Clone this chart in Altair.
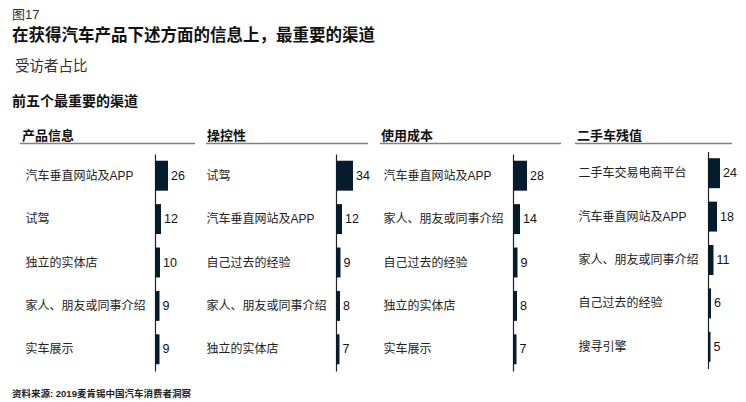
import altair as alt
import pandas as pd

fig_label = "图17"
main_title = "在获得汽车产品下述方面的信息上，最重要的渠道"
subtitle = "受访者占比"
section_title = "前五个最重要的渠道"
source_note = "资料来源: 2019麦肯锡中国汽车消费者洞察"

panel_titles = ["产品信息", "操控性", "使用成本", "二手车残值"]

cats1 = ["汽车垂直网站及APP", "试驾", "独立的实体店", "家人、朋友或同事介绍", "实车展示"]
vals1 = [26, 12, 10, 9, 9]
cats2 = ["试驾", "汽车垂直网站及APP", "自己过去的经验", "家人、朋友或同事介绍", "独立的实体店"]
vals2 = [34, 12, 9, 8, 7]
cats3 = ["汽车垂直网站及APP", "家人、朋友或同事介绍", "自己过去的经验", "独立的实体店", "实车展示"]
vals3 = [28, 14, 9, 8, 7]
cats4 = ["二手车交易电商平台", "汽车垂直网站及APP", "家人、朋友或同事介绍", "自己过去的经验", "搜寻引擎"]
vals4 = [24, 18, 11, 6, 5]

NAVY = "#051C2C"
FONT = "Liberation Sans, Noto Sans CJK SC"
CJK = "Noto Sans CJK SC"
H = 217


def panel(title, cats, vals, width, line_l, line_r, head_x, extra_layers=(), shift=0):
    df = pd.DataFrame({"channel": cats, "share": vals})
    if shift:
        yscale = alt.Scale(paddingInner=0.31, paddingOuter=0.155, range=[-shift, H - shift])
    else:
        yscale = alt.Scale(paddingInner=0.31, paddingOuter=0.155)
    base = alt.Chart(df).encode(
        y=alt.Y(
            "channel:N",
            sort=cats,
            scale=yscale,
            axis=alt.Axis(
                title=None, ticks=False, tickSize=0, labelAlign="left",
                labelPadding=130, labelFont=FONT, labelFontSize=12,
                labelColor="#222222", domainColor="#222222", domainWidth=1.2,
                labelLimit=200, grid=False,
            ),
        ),
        x=alt.X("share:Q", scale=alt.Scale(domain=[0, width * 2], nice=False), axis=None),
    )
    bars = base.mark_bar(color=NAVY)
    labels = base.mark_text(align="left", baseline="middle", dx=3, font=FONT,
                            fontSize=12.5, color="#111111").encode(text="share:Q")
    tdf = pd.DataFrame({"t": [title]})
    head = alt.Chart(tdf).mark_text(align="left", baseline="middle", font=CJK,
                                    fontSize=13, fontWeight="bold", color="#111111").encode(
        text="t:N", x=alt.value(head_x), y=alt.value(-18))
    rule = alt.Chart(tdf).mark_rule(color="#808080", strokeWidth=1.5).encode(
        x=alt.value(line_l), x2=alt.value(line_r), y=alt.value(-10.5))
    return alt.layer(bars, labels, head, rule, *extra_layers).properties(width=width, height=H)


def txt(s, x, y, size, weight="normal", color="#111111"):
    return alt.Chart(pd.DataFrame({"t": [s]})).mark_text(
        align="left", baseline="middle", font=FONT, fontSize=size,
        fontWeight=weight, color=color).encode(text="t:N", x=alt.value(x), y=alt.value(y))


extras = [
    txt(fig_label, -143, -139, 13, color="#333333"),
    txt(main_title, -143, -118, 16.5, weight="bold"),
    txt(subtitle, -140, -87, 14.5, color="#333333"),
    txt(section_title, -143, -52, 14, weight="bold"),
    txt(source_note, -143, 240, 9.5, weight="bold", color="#222222"),
]

p1 = panel(panel_titles[0], cats1, vals1, 61, -135, 40, -133, extras)
p2 = panel(panel_titles[1], cats2, vals2, 57, -130, 32, -129)
p3 = panel(panel_titles[2], cats3, vals3, 75, -133, 48, -132)
p4 = panel(panel_titles[3], cats4, vals4, 24, -133, 24, -131, shift=2.5)

chart = alt.hconcat(p1, p2, p3, p4, spacing=120, bounds="flush").properties(
    padding={"left": 4, "top": 1, "right": 0, "bottom": 0}
).configure_view(stroke=None)

chart.save("out.html", embed_options={"renderer": "svg", "actions": False})
